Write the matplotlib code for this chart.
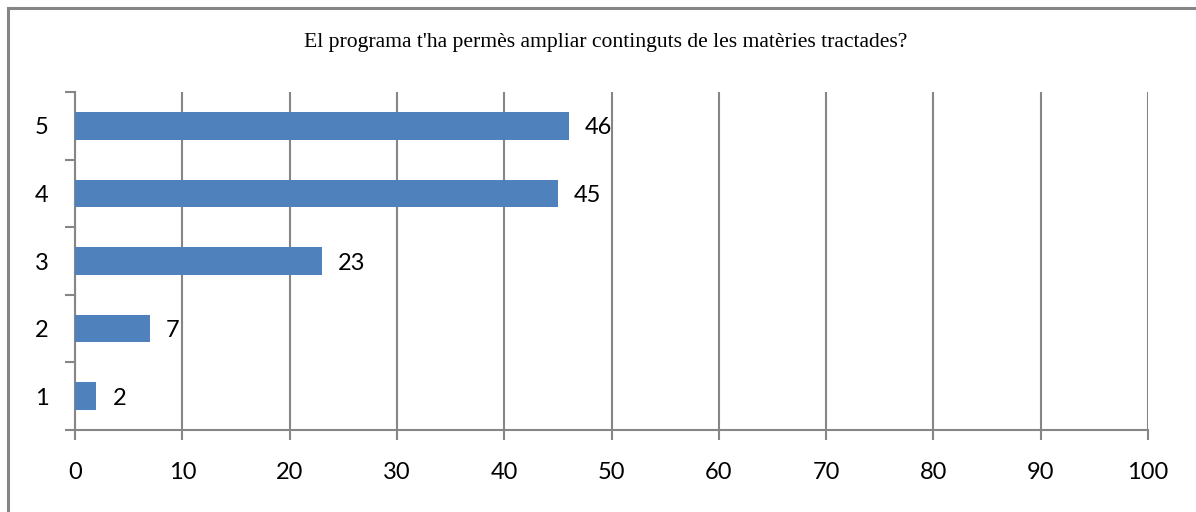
import matplotlib
matplotlib.use("Agg")
import matplotlib.pyplot as plt
from matplotlib.lines import Line2D

categories = ["1", "2", "3", "4", "5"]
values = [2, 7, 23, 45, 46]
x_ticks = [0, 10, 20, 30, 40, 50, 60, 70, 80, 90, 100]
title = "El programa t'ha permès ampliar continguts de les matèries tractades?"

W, H = 1196, 512
fig = plt.figure(figsize=(W / 100, H / 100), dpi=100)
fig.patch.set_facecolor("white")

# outer chart border (left and top visible)
fig.add_artist(Line2D([8 / W, 8 / W], [0, 1 - 8 / H], transform=fig.transFigure,
                      color="#868686", lw=2.2))
fig.add_artist(Line2D([8 / W, 1], [1 - 8 / H, 1 - 8 / H], transform=fig.transFigure,
                      color="#868686", lw=2.2))

ax = fig.add_axes([75 / W, 1 - 430 / H, (1148 - 75) / W, (430 - 92) / H])
grid_c = "#868686"
pos = list(range(len(categories)))
ax.barh(pos, values, height=0.41, color="#4F81BD", zorder=3)
ax.set_xlim(0, 100)
ax.set_ylim(-0.5, len(categories) - 0.5)

ax.set_xticks(x_ticks)
ax.set_xticklabels([str(t) for t in x_ticks])
ax.xaxis.grid(True, color=grid_c, lw=1.5, zorder=0)
ax.set_axisbelow(True)

# y ticks at category boundaries, labels at centers
ax.set_yticks([i - 0.5 for i in range(len(categories) + 1)])
ax.set_yticklabels([])
ax.set_yticks(pos, minor=True)
ax.set_yticklabels(categories, minor=True, va="center_baseline")
ax.tick_params(axis="y", which="minor", length=0, pad=19, labelsize=17)
ax.tick_params(axis="y", which="major", length=7, width=1.5, color=grid_c, direction="out")
ax.tick_params(axis="x", length=7, width=1.5, color=grid_c, direction="out", pad=16,
               labelsize=17)

for lab in ax.get_xticklabels() + ax.get_yticklabels(minor=True):
    lab.set_fontfamily("Lato")

for s in ["top", "right"]:
    ax.spines[s].set_visible(False)
for s in ["left", "bottom"]:
    ax.spines[s].set_color(grid_c)
    ax.spines[s].set_linewidth(1.5)

for p, v in zip(pos, values):
    ax.text(v + 1.5, p, str(v), va="center_baseline", ha="left", fontsize=17,
            fontfamily="Lato", zorder=4)

fig.text(606 / W, 1 - 43 / H, title, ha="center", va="center", fontsize=15.6,
         fontfamily="Liberation Serif")

fig.savefig("out.png", dpi=100)
